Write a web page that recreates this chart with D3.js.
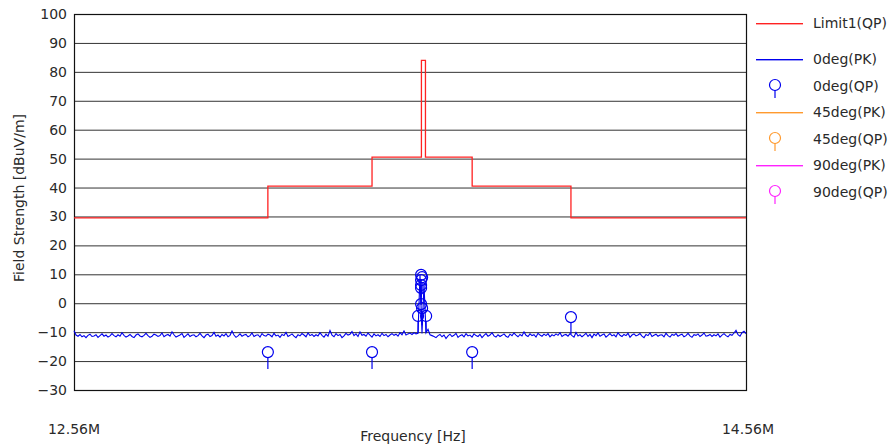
<!DOCTYPE html>
<html>
<head>
<meta charset="utf-8">
<script src="https://cdn.jsdelivr.net/npm/d3@7"></script>
<style>
  body { margin: 0; background: #fff; }
  svg text { font-family: 'DejaVu Sans', Verdana, sans-serif; font-size: 14px; fill: #2a2a2a; }
</style>
</head>
<body>
<div id="chart"></div>
<script>
// x range of the sweep (MHz)
const freqRange = [12.56, 14.56]
const xTickLabels = ['12.56M', '14.56M']
const yTicks = [-30, -20, -10, 0, 10, 20, 30, 40, 50, 60, 70, 80, 90, 100]

// Limit1(QP) step line: [MHz, dBuV/m]
const limitFreqs = [12.56, 13.137, 13.447, 13.594, 13.606, 13.745, 14.039, 14.56]
const limitValues = [29.5, 40.5, 50.5, 84.0, 50.5, 40.5, 29.5, 29.5]

// 0deg(PK) sweep, one reading every step from 12.56M
const pkStep = 2 / 336
const pk0Values = [
  -9.5, -11.0, -11.4, -10.8, -11.6, -11.2, -11.9, -11.1, -10.7, -11.5, -11.3, -10.9, -11.8, -11.2, -10.6, -11.4, -11.0, -11.7, -11.3, -10.5,
  -11.2, -11.6, -10.9, -11.4, -10.2, -11.1, -11.7, -11.3, -10.8, -11.5, -11.9, -11.0, -10.6, -11.3, -11.6, -11.1, -10.4, -11.2, -11.8, -11.4,
  -10.7, -11.0, -11.5, -11.2, -10.3, -11.6, -11.1, -10.8, -11.4, -9.9, -10.9, -11.7, -11.3, -11.0, -10.5, -11.8, -11.2, -10.6, -11.5, -11.1,
  -10.9, -11.6, -11.2, -10.4, -11.3, -11.9, -11.0, -10.7, -11.5, -11.2, -10.1, -11.4, -11.0, -11.7, -10.8, -11.3, -10.5, -11.6, -11.1, -9.6,
  -11.0, -11.8, -11.3, -10.6, -11.4, -11.0, -10.8, -11.6, -11.2, -10.3, -11.5, -11.1, -10.9, -11.7, -10.5, -11.2, -11.4, -10.7, -11.0, -11.6,
  -10.4, -11.3, -11.0, -11.8, -10.8, -11.2, -10.1, -11.5, -11.1, -10.6, -11.4, -11.9, -10.9, -11.3, -10.5, -11.0, -11.6, -10.3, -11.2, -10.8,
  -11.5, -10.9, -11.3, -10.2, -11.1, -11.7, -10.7, -11.4, -9.4, -11.0, -11.6, -10.5, -11.2, -10.8, -11.9, -11.3, -10.4, -11.0, -10.7, -9.8,
  -11.2, -10.6, -11.5, -9.9, -11.1, -10.8, -11.4, -10.3, -11.0, -11.7, -10.6, -11.3, -10.9, -11.5, -10.4, -11.2, -10.8, -11.6, -11.0, -10.5,
  -11.1, -10.7, -11.4, -10.2, -10.9, -9.6, -11.0, -10.6, -10.3, -10.8, -10.2, -10.6, -10.4, 9.8, -10.5, 6.5, -10.2, -9.0, -10.9, -11.2,
  -11.5, -11.9, -11.2, -10.8, -11.6, -11.0, -12.2, -11.3, -10.7, -11.5, -11.1, -10.4, -11.8, -11.2, -10.9, -11.6, -10.5, -11.3, -11.0, -11.7,
  -10.6, -11.2, -11.5, -10.8, -11.9, -11.1, -10.5, -11.4, -11.0, -10.2, -11.3, -11.7, -10.9, -11.5, -11.1, -10.6, -11.4, -11.8, -10.7, -11.2,
  -10.3, -11.0, -11.6, -10.8, -11.3, -9.9, -11.1, -11.5, -10.6, -11.2, -10.9, -11.7, -10.4, -11.0, -11.4, -10.7, -11.2, -10.5, -11.6, -10.9,
  -11.3, -10.6, -11.1, -10.2, -11.5, -11.0, -10.8, -11.4, -10.5, -11.2, -11.7, -10.1, -11.3, -10.9, -11.6, -11.0, -10.4, -11.5, -10.8, -11.9,
  -10.7, -11.2, -10.3, -11.4, -11.0, -10.6, -11.7, -11.1, -10.5, -11.3, -10.9, -11.6, -10.2, -11.1, -11.5, -10.8, -11.2, -10.4, -11.8, -11.0,
  -10.6, -11.3, -11.0, -10.5, -11.4, -11.9, -10.8, -11.2, -10.3, -11.5, -11.1, -10.7, -11.4, -11.0, -10.9, -11.6, -10.4, -11.2, -11.7, -10.8,
  -11.1, -10.5, -11.4, -11.0, -10.7, -11.6, -11.2, -10.4, -11.3, -11.8, -10.9, -11.1, -10.6, -11.5, -11.0, -10.3, -11.4, -11.2, -10.8, -11.5,
  -10.9, -11.3, -10.6, -11.7, -11.0, -10.5, -11.2, -11.6, -10.8, -11.1, -10.3, -9.4, -10.9, -11.4, -10.2, -9.7, -10.5
]

// 0deg(QP) readings
const qp0Freqs = [13.137, 13.447, 13.745, 14.039, 13.593, 13.596, 13.593, 13.593, 13.593, 13.593, 13.596, 13.584, 13.608]
const qp0Values = [-16.9, -16.9, -16.9, -4.8, 9.8, 9.0, 8.0, 6.3, 5.3, -0.3, -1.7, -4.4, -4.4]

// 45deg / 90deg have no readings in this span
const pk45Values = []
const qp45Values = []
const pk90Values = []
const qp90Values = []

const legendLabels = ['Limit1(QP)', '0deg(PK)', '0deg(QP)', '45deg(PK)', '45deg(QP)', '90deg(PK)', '90deg(QP)']
const legendTypes = ['line', 'line', 'qp', 'line', 'qp', 'line', 'qp']
const legendColors = ['#f22', '#0000ee', '#0000ee', '#ff9a2e', '#ff9a2e', '#ff22ff', '#ff22ff']

const width = 891
const height = 446
const plotLeft = 74
const plotRight = 746
const plotTop = 14
const plotBottom = 390

const x = d3.scaleLinear().domain(freqRange).range([plotLeft, plotRight])
const y = d3.scaleLinear().domain([-30, 100]).range([plotBottom, plotTop])

const svg = d3.select('#chart').append('svg')
  .attr('width', width)
  .attr('height', height)

// grid + y labels
const yAxis = d3.axisLeft(y)
  .tickValues(yTicks)
  .tickSize(-(plotRight - plotLeft))
  .tickPadding(7)

const gy = svg.append('g')
  .attr('transform', 'translate(' + plotLeft + ',0)')
  .call(yAxis)
gy.select('.domain').remove()
gy.selectAll('.tick line').attr('stroke', '#333').attr('stroke-width', 1)
gy.selectAll('.tick text')
  .style('font-size', '14px')
  .style('font-family', "'DejaVu Sans', Verdana, sans-serif")
  .attr('fill', '#2a2a2a')

// frame
svg.append('rect')
  .attr('x', plotLeft + 0.5)
  .attr('y', plotTop + 0.5)
  .attr('width', plotRight - plotLeft)
  .attr('height', plotBottom - plotTop)
  .attr('fill', 'none')
  .attr('stroke', '#111')
  .attr('stroke-width', 1.2)

// limit line
const limitPts = limitFreqs.map((f, i) => [f, limitValues[i]])
svg.append('path')
  .datum(limitPts)
  .attr('fill', 'none')
  .attr('stroke', legendColors[0])
  .attr('stroke-width', 1.3)
  .attr('d', d3.line().x(d => x(d[0])).y(d => y(d[1])).curve(d3.curveStepAfter))

// PK trace
const lineFn = d3.line().x(d => x(d[0])).y(d => y(d[1]))
const pk0Pts = pk0Values.map((v, i) => [freqRange[0] + i * pkStep, v])
svg.append('path')
  .datum(pk0Pts)
  .attr('fill', 'none')
  .attr('stroke', legendColors[1])
  .attr('stroke-width', 1.1)
  .attr('d', lineFn)

// QP markers: circle with a stem below
function qpMarker (g, cx, cy, color, stem) {
  g.append('line')
    .attr('x1', cx).attr('x2', cx)
    .attr('y1', cy + 5).attr('y2', cy + 5 + stem)
    .attr('stroke', color).attr('stroke-width', 1.2)
  g.append('circle')
    .attr('cx', cx).attr('cy', cy).attr('r', 5.5)
    .attr('fill', 'none')
    .attr('stroke', color).attr('stroke-width', 1.2)
}

const qpG = svg.append('g')
qp0Freqs.forEach((f, i) => {
  qpMarker(qpG, x(f), y(qp0Values[i]), legendColors[2], 12)
})

// axis labels
svg.append('text')
  .attr('x', x(freqRange[0]))
  .attr('y', 434)
  .attr('text-anchor', 'middle')
  .text(xTickLabels[0])
svg.append('text')
  .attr('x', x(freqRange[1]) + 2)
  .attr('y', 434)
  .attr('text-anchor', 'middle')
  .text(xTickLabels[1])
svg.append('text')
  .attr('x', 413)
  .attr('y', 441)
  .attr('text-anchor', 'middle')
  .text('Frequency [Hz]')
svg.append('text')
  .attr('transform', 'translate(24,198) rotate(-90)')
  .attr('text-anchor', 'middle')
  .text('Field Strength [dBuV/m]')

// legend
const legendY = [23, 59, 86, 112, 139, 165, 192]
const legend = svg.selectAll('.legend')
  .data(legendLabels)
  .enter().append('g')
  .attr('class', 'legend')
  .attr('transform', (d, i) => 'translate(756,' + legendY[i] + ')')

legend.each(function (d, i) {
  const g = d3.select(this)
  if (legendTypes[i] === 'line') {
    g.append('rect')
      .attr('x', 0).attr('y', 0)
      .attr('width', 47).attr('height', 1.4)
      .attr('fill', legendColors[i])
  } else {
    qpMarker(g, 19, -1, legendColors[i], 8)
  }
  g.append('text')
    .attr('x', 57)
    .attr('y', 0)
    .attr('dy', '0.35em')
    .text(d)
})
</script>
</body>
</html>
